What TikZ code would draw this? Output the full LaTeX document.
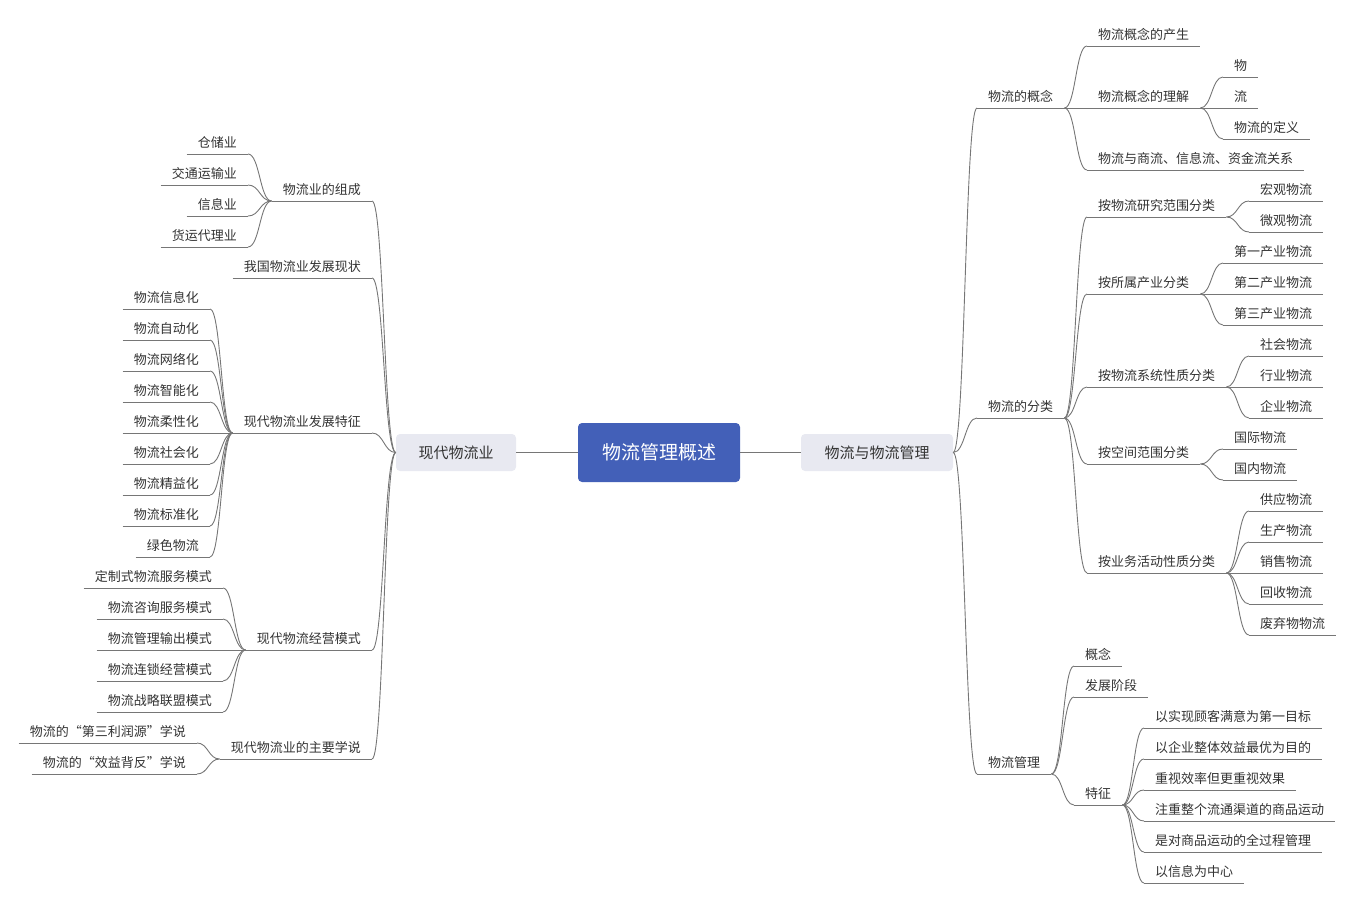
\documentclass[tikz,border=0pt]{standalone}
\usepackage{fontspec}
\setmainfont{Noto Sans CJK SC}
\usetikzlibrary{calc}
\definecolor{linec}{RGB}{118,118,118}
\definecolor{txt}{RGB}{51,51,51}
\definecolor{mainblue}{RGB}{67,96,184}
\definecolor{boxgray}{RGB}{232,233,241}
\tikzset{
  topic/.style={font=\fontsize{13}{15}\selectfont, text=txt, inner xsep=11pt, inner ysep=4pt, text height=9.5pt, text depth=2pt},
  conn/.style={draw=linec, line width=0.9pt},
  bz/.style={to path={let \p1=(\tikztostart), \p2=(\tikztotarget), \n1={0.5*(\x2-\x1)}, \n2={-0.5*(\x2-\x1)} in .. controls ([xshift=\n1]\p1) and ([xshift=\n2]\p2) .. (\p2)}},
  centerbox/.style={fill=mainblue, rounded corners=4pt, text=white, font=\fontsize{19}{22}\selectfont, minimum width=162pt, minimum height=59pt, inner sep=0pt},
  mainbox/.style={fill=boxgray, rounded corners=4pt, text=txt, font=\fontsize{15}{18}\selectfont, minimum height=37pt, inner sep=0pt}
}
\newcommand\RT[4]{\node[topic,anchor=south west] (#1) at (#2,#3) {#4}; \draw[conn] (#1.south west) -- (#1.south east);}
\newcommand\LT[4]{\node[topic,anchor=south east] (#1) at (#2,#3) {#4}; \draw[conn] (#1.south west) -- (#1.south east);}
\newcommand\RC[2]{\draw[conn] (#1.south east) to[bz] (#2.south west);}
\newcommand\LC[2]{\draw[conn] (#2.south east) to[bz] (#1.south west);}
\begin{document}
\begin{tikzpicture}[x=1pt,y=-1pt]
\useasboundingbox (0,0) rectangle (1355,904);
% central
\node[centerbox] (C) at (659,452.5) {物流管理概述};
\node[mainbox, minimum width=120pt] (L) at (456,452.5) {现代物流业};
\node[mainbox, minimum width=152pt] (R) at (877,452.5) {物流与物流管理};
\draw[conn] (C.west) -- (L.east);
\draw[conn] (C.east) -- (R.west);

% ---------- right side ----------
\RT{r1}{977}{108}{物流的概念}
\RT{r2}{977}{418}{物流的分类}
\RT{r3}{977}{774}{物流管理}
\draw[conn] (R.east) to[bz] (r1.south west);
\draw[conn] (R.east) to[bz] (r2.south west);
\draw[conn] (R.east) to[bz] (r3.south west);

\RT{r1a}{1087}{46}{物流概念的产生}
\RT{r1b}{1087}{108}{物流概念的理解}
\RT{r1c}{1087}{170}{物流与商流、信息流、资金流关系}
\RC{r1}{r1a}\RC{r1}{r1b}\RC{r1}{r1c}
\RT{r1b1}{1223}{77}{物}
\RT{r1b2}{1223}{108}{流}
\RT{r1b3}{1223}{139}{物流的定义}
\RC{r1b}{r1b1}\RC{r1b}{r1b2}\RC{r1b}{r1b3}

\RT{r2a}{1087}{217}{按物流研究范围分类}
\RT{r2b}{1087}{294}{按所属产业分类}
\RT{r2c}{1087}{387}{按物流系统性质分类}
\RT{r2d}{1087}{464}{按空间范围分类}
\RT{r2e}{1087}{573}{按业务活动性质分类}
\RC{r2}{r2a}\RC{r2}{r2b}\RC{r2}{r2c}\RC{r2}{r2d}\RC{r2}{r2e}

\RT{r2a1}{1249}{201}{宏观物流}
\RT{r2a2}{1249}{232}{微观物流}
\RC{r2a}{r2a1}\RC{r2a}{r2a2}
\RT{r2b1}{1223}{263}{第一产业物流}
\RT{r2b2}{1223}{294}{第二产业物流}
\RT{r2b3}{1223}{325}{第三产业物流}
\RC{r2b}{r2b1}\RC{r2b}{r2b2}\RC{r2b}{r2b3}
\RT{r2c1}{1249}{356}{社会物流}
\RT{r2c2}{1249}{387}{行业物流}
\RT{r2c3}{1249}{418}{企业物流}
\RC{r2c}{r2c1}\RC{r2c}{r2c2}\RC{r2c}{r2c3}
\RT{r2d1}{1223}{449}{国际物流}
\RT{r2d2}{1223}{480}{国内物流}
\RC{r2d}{r2d1}\RC{r2d}{r2d2}
\RT{r2e1}{1249}{511}{供应物流}
\RT{r2e2}{1249}{542}{生产物流}
\RT{r2e3}{1249}{573}{销售物流}
\RT{r2e4}{1249}{604}{回收物流}
\RT{r2e5}{1249}{635}{废弃物物流}
\RC{r2e}{r2e1}\RC{r2e}{r2e2}\RC{r2e}{r2e3}\RC{r2e}{r2e4}\RC{r2e}{r2e5}

\RT{r3a}{1074}{666}{概念}
\RT{r3b}{1074}{697}{发展阶段}
\RT{r3c}{1074}{805}{特征}
\RC{r3}{r3a}\RC{r3}{r3b}\RC{r3}{r3c}
\RT{r3c1}{1144}{728}{以实现顾客满意为第一目标}
\RT{r3c2}{1144}{759}{以企业整体效益最优为目的}
\RT{r3c3}{1144}{790}{重视效率但更重视效果}
\RT{r3c4}{1144}{821}{注重整个流通渠道的商品运动}
\RT{r3c5}{1144}{852}{是对商品运动的全过程管理}
\RT{r3c6}{1144}{883}{以信息为中心}
\RC{r3c}{r3c1}\RC{r3c}{r3c2}\RC{r3c}{r3c3}\RC{r3c}{r3c4}\RC{r3c}{r3c5}\RC{r3c}{r3c6}

% ---------- left side ----------
\LT{l1}{372}{201}{物流业的组成}
\LT{l2}{372}{278}{我国物流业发展现状}
\LT{l3}{372}{433}{现代物流业发展特征}
\LT{l4}{372}{650}{现代物流经营模式}
\LT{l5}{372}{759}{现代物流业的主要学说}
\draw[conn] (l1.south east) to[bz] (L.west);
\draw[conn] (l2.south east) to[bz] (L.west);
\draw[conn] (l3.south east) to[bz] (L.west);
\draw[conn] (l4.south east) to[bz] (L.west);
\draw[conn] (l5.south east) to[bz] (L.west);

\LT{l1a}{248}{154}{仓储业}
\LT{l1b}{248}{185}{交通运输业}
\LT{l1c}{248}{216}{信息业}
\LT{l1d}{248}{247}{货运代理业}
\LC{l1}{l1a}\LC{l1}{l1b}\LC{l1}{l1c}\LC{l1}{l1d}

\LT{l3a}{210}{309}{物流信息化}
\LT{l3b}{210}{340}{物流自动化}
\LT{l3c}{210}{371}{物流网络化}
\LT{l3d}{210}{402}{物流智能化}
\LT{l3e}{210}{433}{物流柔性化}
\LT{l3f}{210}{464}{物流社会化}
\LT{l3g}{210}{495}{物流精益化}
\LT{l3h}{210}{526}{物流标准化}
\LT{l3i}{210}{557}{绿色物流}
\LC{l3}{l3a}\LC{l3}{l3b}\LC{l3}{l3c}\LC{l3}{l3d}\LC{l3}{l3e}\LC{l3}{l3f}\LC{l3}{l3g}\LC{l3}{l3h}\LC{l3}{l3i}

\LT{l4a}{223}{588}{定制式物流服务模式}
\LT{l4b}{223}{619}{物流咨询服务模式}
\LT{l4c}{223}{650}{物流管理输出模式}
\LT{l4d}{223}{681}{物流连锁经营模式}
\LT{l4e}{223}{712}{物流战略联盟模式}
\LC{l4}{l4a}\LC{l4}{l4b}\LC{l4}{l4c}\LC{l4}{l4d}\LC{l4}{l4e}

\LT{l5a}{197}{743}{物流的“第三利润源”学说}
\LT{l5b}{197}{774}{物流的“效益背反”学说}
\LC{l5}{l5a}\LC{l5}{l5b}
\end{tikzpicture}
\end{document}
